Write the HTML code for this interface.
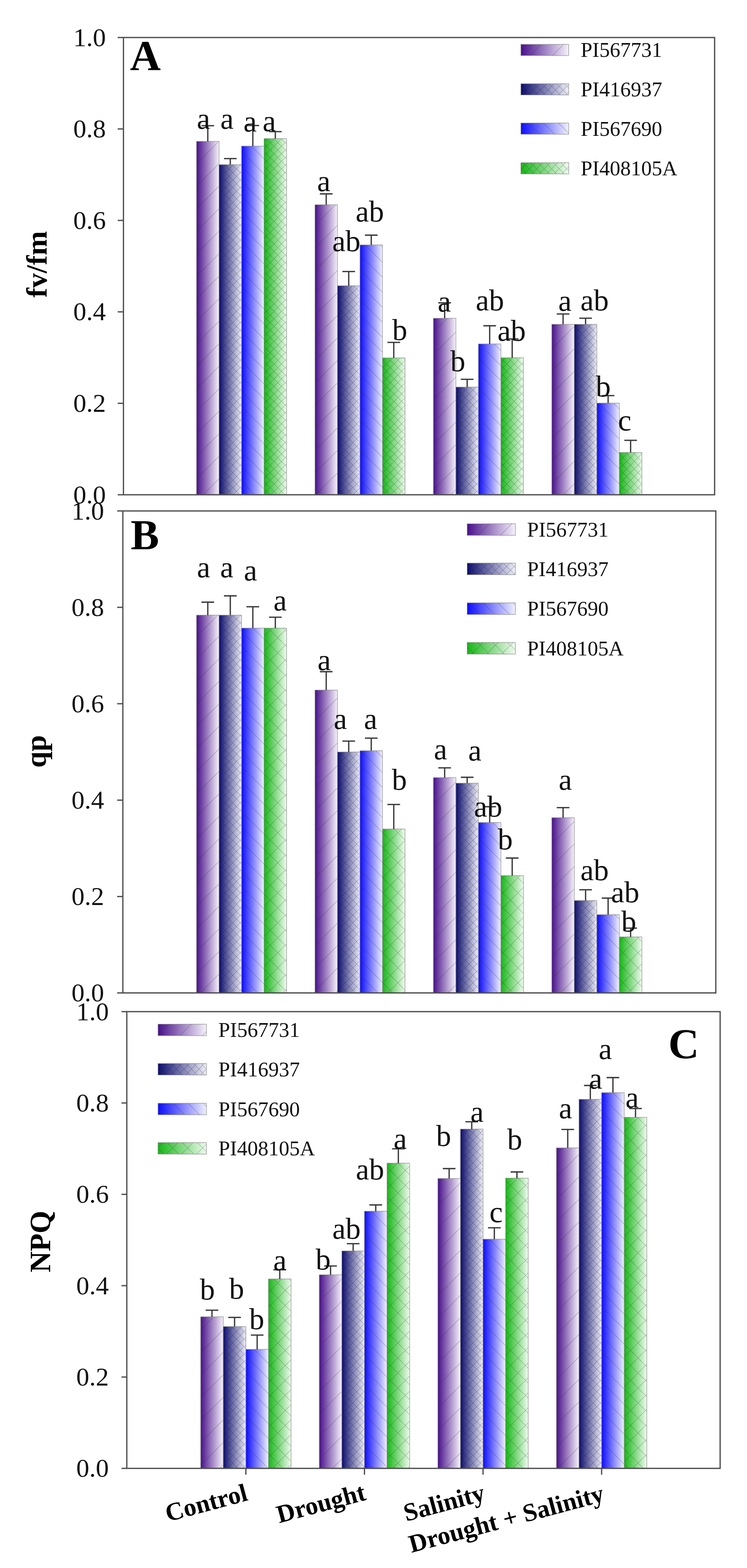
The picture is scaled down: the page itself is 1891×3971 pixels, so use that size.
<!DOCTYPE html>
<html><head><meta charset="utf-8"><title>Chlorophyll fluorescence chart</title>
<style>html,body{margin:0;padding:0;background:#fff;}svg{display:block;}</style>
</head><body>
<svg width="1891" height="3971" viewBox="0 0 1891 3971">
<defs>
<linearGradient id="g0" x1="0" y1="0" x2="1" y2="0"><stop offset="0" stop-color="#48108a"/><stop offset="1" stop-color="#f6f2fb"/></linearGradient>
<linearGradient id="g1" x1="0" y1="0" x2="1" y2="0"><stop offset="0" stop-color="#0c0c6e"/><stop offset="1" stop-color="#f0f0f8"/></linearGradient>
<linearGradient id="g2" x1="0" y1="0" x2="1" y2="0"><stop offset="0" stop-color="#0c0cff"/><stop offset="1" stop-color="#f0f0ff"/></linearGradient>
<linearGradient id="g3" x1="0" y1="0" x2="1" y2="0"><stop offset="0" stop-color="#16b616"/><stop offset="1" stop-color="#f0faf0"/></linearGradient>
<pattern id="h0" patternUnits="userSpaceOnUse" width="57" height="57"><path d="M-5,62 L62,-5 M-5,5 L5,-5 M52,62 L62,52" stroke="rgba(40,40,60,0.32)" stroke-width="1.3" fill="none"/></pattern>
<pattern id="h1" patternUnits="userSpaceOnUse" width="19" height="19"><path d="M0,0 L19,19 M19,0 L0,19" stroke="rgba(30,30,50,0.35)" stroke-width="1.1" fill="none"/></pattern>
<pattern id="h2" patternUnits="userSpaceOnUse" width="38" height="38"><path d="M-5,-5 L43,43 M33,-5 L43,5 M-5,33 L5,43" stroke="rgba(40,40,60,0.32)" stroke-width="1.3" fill="none"/></pattern>
<pattern id="h3" patternUnits="userSpaceOnUse" width="19" height="19"><path d="M0,0 L19,19 M19,0 L0,19" stroke="rgba(30,60,30,0.35)" stroke-width="1.1" fill="none"/></pattern>
<pattern id="h3b" patternUnits="userSpaceOnUse" width="38" height="38"><path d="M0,0 L38,38 M38,0 L0,38" stroke="rgba(30,60,30,0.35)" stroke-width="1.2" fill="none"/></pattern>
</defs>
<rect x="0" y="0" width="1891" height="3971" fill="#ffffff"/>
<g id="panelA">
<rect x="497.5" y="358" width="57" height="895" fill="url(#g0)"/><rect x="497.5" y="358" width="57" height="895" fill="url(#h0)" stroke="#8a8a8a" stroke-width="1.2"/>
<rect x="554.5" y="417" width="57" height="836" fill="url(#g1)"/><rect x="554.5" y="417" width="57" height="836" fill="url(#h1)" stroke="#8a8a8a" stroke-width="1.2"/>
<rect x="611.5" y="370" width="57" height="883" fill="url(#g2)"/><rect x="611.5" y="370" width="57" height="883" fill="url(#h2)" stroke="#8a8a8a" stroke-width="1.2"/>
<rect x="668.5" y="351" width="57" height="902" fill="url(#g3)"/><rect x="668.5" y="351" width="57" height="902" fill="url(#h3)" stroke="#8a8a8a" stroke-width="1.2"/>
<rect x="797.3" y="518.5" width="57" height="734.5" fill="url(#g0)"/><rect x="797.3" y="518.5" width="57" height="734.5" fill="url(#h0)" stroke="#8a8a8a" stroke-width="1.2"/>
<rect x="854.3" y="723.7" width="57" height="529.3" fill="url(#g1)"/><rect x="854.3" y="723.7" width="57" height="529.3" fill="url(#h1)" stroke="#8a8a8a" stroke-width="1.2"/>
<rect x="911.3" y="620.2" width="57" height="632.8" fill="url(#g2)"/><rect x="911.3" y="620.2" width="57" height="632.8" fill="url(#h2)" stroke="#8a8a8a" stroke-width="1.2"/>
<rect x="968.3" y="906.4" width="57" height="346.6" fill="url(#g3)"/><rect x="968.3" y="906.4" width="57" height="346.6" fill="url(#h3)" stroke="#8a8a8a" stroke-width="1.2"/>
<rect x="1097.1" y="806" width="57" height="447" fill="url(#g0)"/><rect x="1097.1" y="806" width="57" height="447" fill="url(#h0)" stroke="#8a8a8a" stroke-width="1.2"/>
<rect x="1154.1" y="980.2" width="57" height="272.8" fill="url(#g1)"/><rect x="1154.1" y="980.2" width="57" height="272.8" fill="url(#h1)" stroke="#8a8a8a" stroke-width="1.2"/>
<rect x="1211.1" y="871" width="57" height="382" fill="url(#g2)"/><rect x="1211.1" y="871" width="57" height="382" fill="url(#h2)" stroke="#8a8a8a" stroke-width="1.2"/>
<rect x="1268.1" y="906" width="57" height="347" fill="url(#g3)"/><rect x="1268.1" y="906" width="57" height="347" fill="url(#h3)" stroke="#8a8a8a" stroke-width="1.2"/>
<rect x="1396.9" y="821.3" width="57" height="431.7" fill="url(#g0)"/><rect x="1396.9" y="821.3" width="57" height="431.7" fill="url(#h0)" stroke="#8a8a8a" stroke-width="1.2"/>
<rect x="1453.9" y="821.3" width="57" height="431.7" fill="url(#g1)"/><rect x="1453.9" y="821.3" width="57" height="431.7" fill="url(#h1)" stroke="#8a8a8a" stroke-width="1.2"/>
<rect x="1510.9" y="1020.9" width="57" height="232.1" fill="url(#g2)"/><rect x="1510.9" y="1020.9" width="57" height="232.1" fill="url(#h2)" stroke="#8a8a8a" stroke-width="1.2"/>
<rect x="1567.9" y="1145.9" width="57" height="107.1" fill="url(#g3)"/><rect x="1567.9" y="1145.9" width="57" height="107.1" fill="url(#h3)" stroke="#8a8a8a" stroke-width="1.2"/>
<path d="M526,358 V318.3 M510,318.3 H542" stroke="#3a3a3a" stroke-width="3.3" fill="none"/>
<path d="M583,417 V401.7 M567,401.7 H599" stroke="#3a3a3a" stroke-width="3.3" fill="none"/>
<path d="M640,370 V317.8 M624,317.8 H656" stroke="#3a3a3a" stroke-width="3.3" fill="none"/>
<path d="M697,351 V333.4 M681,333.4 H713" stroke="#3a3a3a" stroke-width="3.3" fill="none"/>
<path d="M825.8,518.5 V491 M809.8,491 H841.8" stroke="#3a3a3a" stroke-width="3.3" fill="none"/>
<path d="M882.8,723.7 V687.7 M866.8,687.7 H898.8" stroke="#3a3a3a" stroke-width="3.3" fill="none"/>
<path d="M939.8,620.2 V595.5 M923.8,595.5 H955.8" stroke="#3a3a3a" stroke-width="3.3" fill="none"/>
<path d="M996.8,906.4 V867.2 M980.8,867.2 H1012.8" stroke="#3a3a3a" stroke-width="3.3" fill="none"/>
<path d="M1125.6,806 V767 M1109.6,767 H1141.6" stroke="#3a3a3a" stroke-width="3.3" fill="none"/>
<path d="M1182.6,980.2 V960.7 M1166.6,960.7 H1198.6" stroke="#3a3a3a" stroke-width="3.3" fill="none"/>
<path d="M1239.6,871 V825 M1223.6,825 H1255.6" stroke="#3a3a3a" stroke-width="3.3" fill="none"/>
<path d="M1296.6,906 V858.5 M1280.6,858.5 H1312.6" stroke="#3a3a3a" stroke-width="3.3" fill="none"/>
<path d="M1425.4,821.3 V795.2 M1409.4,795.2 H1441.4" stroke="#3a3a3a" stroke-width="3.3" fill="none"/>
<path d="M1482.4,821.3 V805.8 M1466.4,805.8 H1498.4" stroke="#3a3a3a" stroke-width="3.3" fill="none"/>
<path d="M1539.4,1020.9 V1001.8 M1523.4,1001.8 H1555.4" stroke="#3a3a3a" stroke-width="3.3" fill="none"/>
<path d="M1596.4,1145.9 V1115.2 M1580.4,1115.2 H1612.4" stroke="#3a3a3a" stroke-width="3.3" fill="none"/>
<rect x="312.5" y="95" width="1496.5" height="1158" fill="none" stroke="#4d4d4d" stroke-width="3.2"/>
<path d="M298,1253 H312.5" stroke="#4d4d4d" stroke-width="3.2"/><text x="268" y="1274.5" font-family="'Liberation Serif', 'Times New Roman', serif" font-size="66" text-anchor="end" fill="#111">0.0</text>
<path d="M298,1021.4 H312.5" stroke="#4d4d4d" stroke-width="3.2"/><text x="268" y="1042.9" font-family="'Liberation Serif', 'Times New Roman', serif" font-size="66" text-anchor="end" fill="#111">0.2</text>
<path d="M298,789.8 H312.5" stroke="#4d4d4d" stroke-width="3.2"/><text x="268" y="811.3" font-family="'Liberation Serif', 'Times New Roman', serif" font-size="66" text-anchor="end" fill="#111">0.4</text>
<path d="M298,558.2 H312.5" stroke="#4d4d4d" stroke-width="3.2"/><text x="268" y="579.7" font-family="'Liberation Serif', 'Times New Roman', serif" font-size="66" text-anchor="end" fill="#111">0.6</text>
<path d="M298,326.6 H312.5" stroke="#4d4d4d" stroke-width="3.2"/><text x="268" y="348.1" font-family="'Liberation Serif', 'Times New Roman', serif" font-size="66" text-anchor="end" fill="#111">0.8</text>
<path d="M298,95 H312.5" stroke="#4d4d4d" stroke-width="3.2"/><text x="268" y="116.5" font-family="'Liberation Serif', 'Times New Roman', serif" font-size="66" text-anchor="end" fill="#111">1.0</text>
<text x="498.3" y="325.6" font-family="'Liberation Serif', 'Times New Roman', serif" font-size="76" fill="#111">a</text>
<text x="557.8" y="325.6" font-family="'Liberation Serif', 'Times New Roman', serif" font-size="76" fill="#111">a</text>
<text x="616.3" y="333" font-family="'Liberation Serif', 'Times New Roman', serif" font-size="76" fill="#111">a</text>
<text x="664.8" y="332" font-family="'Liberation Serif', 'Times New Roman', serif" font-size="76" fill="#111">a</text>
<text x="802.7" y="483.6" font-family="'Liberation Serif', 'Times New Roman', serif" font-size="76" fill="#111">a</text>
<text x="840.9" y="636" font-family="'Liberation Serif', 'Times New Roman', serif" font-size="76" fill="#111">ab</text>
<text x="900.3" y="560.5" font-family="'Liberation Serif', 'Times New Roman', serif" font-size="76" fill="#111">ab</text>
<text x="993" y="861" font-family="'Liberation Serif', 'Times New Roman', serif" font-size="76" fill="#111">b</text>
<text x="1108" y="788.5" font-family="'Liberation Serif', 'Times New Roman', serif" font-size="76" fill="#111">a</text>
<text x="1140" y="939.5" font-family="'Liberation Serif', 'Times New Roman', serif" font-size="76" fill="#111">b</text>
<text x="1204.3" y="786.3" font-family="'Liberation Serif', 'Times New Roman', serif" font-size="76" fill="#111">ab</text>
<text x="1259.3" y="862.5" font-family="'Liberation Serif', 'Times New Roman', serif" font-size="76" fill="#111">ab</text>
<text x="1413.3" y="786.7" font-family="'Liberation Serif', 'Times New Roman', serif" font-size="76" fill="#111">a</text>
<text x="1469.3" y="786" font-family="'Liberation Serif', 'Times New Roman', serif" font-size="76" fill="#111">ab</text>
<text x="1508" y="1004" font-family="'Liberation Serif', 'Times New Roman', serif" font-size="76" fill="#111">b</text>
<text x="1564.6" y="1089.8" font-family="'Liberation Serif', 'Times New Roman', serif" font-size="76" fill="#111">c</text>
<rect x="1318.6" y="112.3" width="121" height="28.5" fill="url(#g0)"/><rect x="1318.6" y="112.3" width="121" height="28.5" fill="url(#h0)" stroke="#8a8a8a" stroke-width="1.2"/><text x="1470" y="144.3" font-family="'Liberation Serif', 'Times New Roman', serif" font-size="53" fill="#111">PI567731</text>
<rect x="1318.6" y="212" width="121" height="28.5" fill="url(#g1)"/><rect x="1318.6" y="212" width="121" height="28.5" fill="url(#h1)" stroke="#8a8a8a" stroke-width="1.2"/><text x="1470" y="244" font-family="'Liberation Serif', 'Times New Roman', serif" font-size="53" fill="#111">PI416937</text>
<rect x="1318.6" y="311.5" width="121" height="28.5" fill="url(#g2)"/><rect x="1318.6" y="311.5" width="121" height="28.5" fill="url(#h2)" stroke="#8a8a8a" stroke-width="1.2"/><text x="1470" y="343.5" font-family="'Liberation Serif', 'Times New Roman', serif" font-size="53" fill="#111">PI567690</text>
<rect x="1318.6" y="412" width="121" height="28.5" fill="url(#g3)"/><rect x="1318.6" y="412" width="121" height="28.5" fill="url(#h3)" stroke="#8a8a8a" stroke-width="1.2"/><text x="1470" y="444" font-family="'Liberation Serif', 'Times New Roman', serif" font-size="53" fill="#111">PI408105A</text>
<text x="328.9" y="178" font-family="'Liberation Serif', 'Times New Roman', serif" font-size="108" font-weight="bold" fill="#000">A</text>
<text transform="translate(118,669.3) rotate(-90)" x="0" y="0" text-anchor="middle" font-family="'Liberation Serif', 'Times New Roman', serif" font-size="74" font-weight="bold" fill="#000">fv/fm</text>
</g>
<g id="panelB">
<rect x="497.5" y="1557.9" width="57" height="956.7" fill="url(#g0)"/><rect x="497.5" y="1557.9" width="57" height="956.7" fill="url(#h0)" stroke="#8a8a8a" stroke-width="1.2"/>
<rect x="554.5" y="1557.9" width="57" height="956.7" fill="url(#g1)"/><rect x="554.5" y="1557.9" width="57" height="956.7" fill="url(#h1)" stroke="#8a8a8a" stroke-width="1.2"/>
<rect x="611.5" y="1590.7" width="57" height="923.9" fill="url(#g2)"/><rect x="611.5" y="1590.7" width="57" height="923.9" fill="url(#h2)" stroke="#8a8a8a" stroke-width="1.2"/>
<rect x="668.5" y="1590.7" width="57" height="923.9" fill="url(#g3)"/><rect x="668.5" y="1590.7" width="57" height="923.9" fill="url(#h3b)" stroke="#8a8a8a" stroke-width="1.2"/>
<rect x="797.3" y="1747.6" width="57" height="767" fill="url(#g0)"/><rect x="797.3" y="1747.6" width="57" height="767" fill="url(#h0)" stroke="#8a8a8a" stroke-width="1.2"/>
<rect x="854.3" y="1904.4" width="57" height="610.2" fill="url(#g1)"/><rect x="854.3" y="1904.4" width="57" height="610.2" fill="url(#h1)" stroke="#8a8a8a" stroke-width="1.2"/>
<rect x="911.3" y="1901.2" width="57" height="613.4" fill="url(#g2)"/><rect x="911.3" y="1901.2" width="57" height="613.4" fill="url(#h2)" stroke="#8a8a8a" stroke-width="1.2"/>
<rect x="968.3" y="2099.5" width="57" height="415.1" fill="url(#g3)"/><rect x="968.3" y="2099.5" width="57" height="415.1" fill="url(#h3b)" stroke="#8a8a8a" stroke-width="1.2"/>
<rect x="1097.1" y="1969.2" width="57" height="545.4" fill="url(#g0)"/><rect x="1097.1" y="1969.2" width="57" height="545.4" fill="url(#h0)" stroke="#8a8a8a" stroke-width="1.2"/>
<rect x="1154.1" y="1983.4" width="57" height="531.2" fill="url(#g1)"/><rect x="1154.1" y="1983.4" width="57" height="531.2" fill="url(#h1)" stroke="#8a8a8a" stroke-width="1.2"/>
<rect x="1211.1" y="2083" width="57" height="431.6" fill="url(#g2)"/><rect x="1211.1" y="2083" width="57" height="431.6" fill="url(#h2)" stroke="#8a8a8a" stroke-width="1.2"/>
<rect x="1268.1" y="2217.5" width="57" height="297.1" fill="url(#g3)"/><rect x="1268.1" y="2217.5" width="57" height="297.1" fill="url(#h3b)" stroke="#8a8a8a" stroke-width="1.2"/>
<rect x="1396.9" y="2070.8" width="57" height="443.8" fill="url(#g0)"/><rect x="1396.9" y="2070.8" width="57" height="443.8" fill="url(#h0)" stroke="#8a8a8a" stroke-width="1.2"/>
<rect x="1453.9" y="2280.6" width="57" height="234" fill="url(#g1)"/><rect x="1453.9" y="2280.6" width="57" height="234" fill="url(#h1)" stroke="#8a8a8a" stroke-width="1.2"/>
<rect x="1510.9" y="2316.3" width="57" height="198.3" fill="url(#g2)"/><rect x="1510.9" y="2316.3" width="57" height="198.3" fill="url(#h2)" stroke="#8a8a8a" stroke-width="1.2"/>
<rect x="1567.9" y="2372.7" width="57" height="141.9" fill="url(#g3)"/><rect x="1567.9" y="2372.7" width="57" height="141.9" fill="url(#h3b)" stroke="#8a8a8a" stroke-width="1.2"/>
<path d="M526,1557.9 V1525 M510,1525 H542" stroke="#3a3a3a" stroke-width="3.3" fill="none"/>
<path d="M583,1557.9 V1509 M567,1509 H599" stroke="#3a3a3a" stroke-width="3.3" fill="none"/>
<path d="M640,1590.7 V1536.7 M624,1536.7 H656" stroke="#3a3a3a" stroke-width="3.3" fill="none"/>
<path d="M697,1590.7 V1563.2 M681,1563.2 H713" stroke="#3a3a3a" stroke-width="3.3" fill="none"/>
<path d="M825.8,1747.6 V1701 M809.8,1701 H841.8" stroke="#3a3a3a" stroke-width="3.3" fill="none"/>
<path d="M882.8,1904.4 V1876.9 M866.8,1876.9 H898.8" stroke="#3a3a3a" stroke-width="3.3" fill="none"/>
<path d="M939.8,1901.2 V1869.4 M923.8,1869.4 H955.8" stroke="#3a3a3a" stroke-width="3.3" fill="none"/>
<path d="M996.8,2099.5 V2037.4 M980.8,2037.4 H1012.8" stroke="#3a3a3a" stroke-width="3.3" fill="none"/>
<path d="M1125.6,1969.2 V1944.6 M1109.6,1944.6 H1141.6" stroke="#3a3a3a" stroke-width="3.3" fill="none"/>
<path d="M1182.6,1983.4 V1968.5 M1166.6,1968.5 H1198.6" stroke="#3a3a3a" stroke-width="3.3" fill="none"/>
<path d="M1239.6,2083 V2043 M1223.6,2043 H1255.6" stroke="#3a3a3a" stroke-width="3.3" fill="none"/>
<path d="M1296.6,2217.5 V2173 M1280.6,2173 H1312.6" stroke="#3a3a3a" stroke-width="3.3" fill="none"/>
<path d="M1425.4,2070.8 V2045.4 M1409.4,2045.4 H1441.4" stroke="#3a3a3a" stroke-width="3.3" fill="none"/>
<path d="M1482.4,2280.6 V2253.4 M1466.4,2253.4 H1498.4" stroke="#3a3a3a" stroke-width="3.3" fill="none"/>
<path d="M1539.4,2316.3 V2274.5 M1523.4,2274.5 H1555.4" stroke="#3a3a3a" stroke-width="3.3" fill="none"/>
<path d="M1596.4,2372.7 V2350.5 M1580.4,2350.5 H1612.4" stroke="#3a3a3a" stroke-width="3.3" fill="none"/>
<rect x="311" y="1294" width="1501" height="1220.6" fill="none" stroke="#4d4d4d" stroke-width="3.2"/>
<path d="M296.5,2514.6 H311" stroke="#4d4d4d" stroke-width="3.2"/><text x="263.5" y="2536.1" font-family="'Liberation Serif', 'Times New Roman', serif" font-size="66" text-anchor="end" fill="#111">0.0</text>
<path d="M296.5,2270.5 H311" stroke="#4d4d4d" stroke-width="3.2"/><text x="263.5" y="2292" font-family="'Liberation Serif', 'Times New Roman', serif" font-size="66" text-anchor="end" fill="#111">0.2</text>
<path d="M296.5,2026.4 H311" stroke="#4d4d4d" stroke-width="3.2"/><text x="263.5" y="2047.9" font-family="'Liberation Serif', 'Times New Roman', serif" font-size="66" text-anchor="end" fill="#111">0.4</text>
<path d="M296.5,1782.2 H311" stroke="#4d4d4d" stroke-width="3.2"/><text x="263.5" y="1803.7" font-family="'Liberation Serif', 'Times New Roman', serif" font-size="66" text-anchor="end" fill="#111">0.6</text>
<path d="M296.5,1538.1 H311" stroke="#4d4d4d" stroke-width="3.2"/><text x="263.5" y="1559.6" font-family="'Liberation Serif', 'Times New Roman', serif" font-size="66" text-anchor="end" fill="#111">0.8</text>
<path d="M296.5,1294 H311" stroke="#4d4d4d" stroke-width="3.2"/><text x="263.5" y="1315.5" font-family="'Liberation Serif', 'Times New Roman', serif" font-size="66" text-anchor="end" fill="#111">1.0</text>
<text x="498.5" y="1462" font-family="'Liberation Serif', 'Times New Roman', serif" font-size="76" fill="#111">a</text>
<text x="557.3" y="1462" font-family="'Liberation Serif', 'Times New Roman', serif" font-size="76" fill="#111">a</text>
<text x="617.2" y="1469.5" font-family="'Liberation Serif', 'Times New Roman', serif" font-size="76" fill="#111">a</text>
<text x="692.3" y="1546" font-family="'Liberation Serif', 'Times New Roman', serif" font-size="76" fill="#111">a</text>
<text x="803.8" y="1697" font-family="'Liberation Serif', 'Times New Roman', serif" font-size="76" fill="#111">a</text>
<text x="844.7" y="1846" font-family="'Liberation Serif', 'Times New Roman', serif" font-size="76" fill="#111">a</text>
<text x="921.3" y="1846" font-family="'Liberation Serif', 'Times New Roman', serif" font-size="76" fill="#111">a</text>
<text x="992" y="2000" font-family="'Liberation Serif', 'Times New Roman', serif" font-size="76" fill="#111">b</text>
<text x="1098.3" y="1923" font-family="'Liberation Serif', 'Times New Roman', serif" font-size="76" fill="#111">a</text>
<text x="1185.3" y="1926" font-family="'Liberation Serif', 'Times New Roman', serif" font-size="76" fill="#111">a</text>
<text x="1199.8" y="2068" font-family="'Liberation Serif', 'Times New Roman', serif" font-size="76" fill="#111">ab</text>
<text x="1260" y="2151" font-family="'Liberation Serif', 'Times New Roman', serif" font-size="76" fill="#111">b</text>
<text x="1414.3" y="2000" font-family="'Liberation Serif', 'Times New Roman', serif" font-size="76" fill="#111">a</text>
<text x="1469.3" y="2229" font-family="'Liberation Serif', 'Times New Roman', serif" font-size="76" fill="#111">ab</text>
<text x="1546.8" y="2285" font-family="'Liberation Serif', 'Times New Roman', serif" font-size="76" fill="#111">ab</text>
<text x="1572.8" y="2359" font-family="'Liberation Serif', 'Times New Roman', serif" font-size="76" fill="#111">b</text>
<rect x="1182.6" y="1326.4" width="122" height="29.5" fill="url(#g0)"/><rect x="1182.6" y="1326.4" width="122" height="29.5" fill="url(#h0)" stroke="#8a8a8a" stroke-width="1.2"/><text x="1334.3" y="1358.9" font-family="'Liberation Serif', 'Times New Roman', serif" font-size="53" fill="#111">PI567731</text>
<rect x="1182.6" y="1426" width="122" height="29.5" fill="url(#g1)"/><rect x="1182.6" y="1426" width="122" height="29.5" fill="url(#h1)" stroke="#8a8a8a" stroke-width="1.2"/><text x="1334.3" y="1458.5" font-family="'Liberation Serif', 'Times New Roman', serif" font-size="53" fill="#111">PI416937</text>
<rect x="1182.6" y="1526.7" width="122" height="29.5" fill="url(#g2)"/><rect x="1182.6" y="1526.7" width="122" height="29.5" fill="url(#h2)" stroke="#8a8a8a" stroke-width="1.2"/><text x="1334.3" y="1559.2" font-family="'Liberation Serif', 'Times New Roman', serif" font-size="53" fill="#111">PI567690</text>
<rect x="1182.6" y="1627" width="122" height="29.5" fill="url(#g3)"/><rect x="1182.6" y="1627" width="122" height="29.5" fill="url(#h3b)" stroke="#8a8a8a" stroke-width="1.2"/><text x="1334.3" y="1659.5" font-family="'Liberation Serif', 'Times New Roman', serif" font-size="53" fill="#111">PI408105A</text>
<text x="330.7" y="1390.5" font-family="'Liberation Serif', 'Times New Roman', serif" font-size="108" font-weight="bold" fill="#000">B</text>
<text transform="translate(115.5,1903) rotate(-90)" x="0" y="0" text-anchor="middle" font-family="'Liberation Serif', 'Times New Roman', serif" font-size="74" font-weight="bold" fill="#000">qp</text>
</g>
<g id="panelC">
<rect x="508" y="3334.8" width="57.2" height="383.9" fill="url(#g0)"/><rect x="508" y="3334.8" width="57.2" height="383.9" fill="url(#h0)" stroke="#8a8a8a" stroke-width="1.2"/>
<rect x="565.2" y="3359.5" width="57.2" height="359.2" fill="url(#g1)"/><rect x="565.2" y="3359.5" width="57.2" height="359.2" fill="url(#h1)" stroke="#8a8a8a" stroke-width="1.2"/>
<rect x="622.4" y="3417.2" width="57.2" height="301.5" fill="url(#g2)"/><rect x="622.4" y="3417.2" width="57.2" height="301.5" fill="url(#h2)" stroke="#8a8a8a" stroke-width="1.2"/>
<rect x="679.6" y="3239" width="57.2" height="479.7" fill="url(#g3)"/><rect x="679.6" y="3239" width="57.2" height="479.7" fill="url(#h3b)" stroke="#8a8a8a" stroke-width="1.2"/>
<rect x="808.2" y="3228.4" width="57.2" height="490.3" fill="url(#g0)"/><rect x="808.2" y="3228.4" width="57.2" height="490.3" fill="url(#h0)" stroke="#8a8a8a" stroke-width="1.2"/>
<rect x="865.4" y="3168" width="57.2" height="550.7" fill="url(#g1)"/><rect x="865.4" y="3168" width="57.2" height="550.7" fill="url(#h1)" stroke="#8a8a8a" stroke-width="1.2"/>
<rect x="922.6" y="3067.4" width="57.2" height="651.3" fill="url(#g2)"/><rect x="922.6" y="3067.4" width="57.2" height="651.3" fill="url(#h2)" stroke="#8a8a8a" stroke-width="1.2"/>
<rect x="979.8" y="2945.7" width="57.2" height="773" fill="url(#g3)"/><rect x="979.8" y="2945.7" width="57.2" height="773" fill="url(#h3b)" stroke="#8a8a8a" stroke-width="1.2"/>
<rect x="1108.4" y="2984.6" width="57.2" height="734.1" fill="url(#g0)"/><rect x="1108.4" y="2984.6" width="57.2" height="734.1" fill="url(#h0)" stroke="#8a8a8a" stroke-width="1.2"/>
<rect x="1165.6" y="2859.4" width="57.2" height="859.3" fill="url(#g1)"/><rect x="1165.6" y="2859.4" width="57.2" height="859.3" fill="url(#h1)" stroke="#8a8a8a" stroke-width="1.2"/>
<rect x="1222.8" y="3138.2" width="57.2" height="580.5" fill="url(#g2)"/><rect x="1222.8" y="3138.2" width="57.2" height="580.5" fill="url(#h2)" stroke="#8a8a8a" stroke-width="1.2"/>
<rect x="1280" y="2983.6" width="57.2" height="735.1" fill="url(#g3)"/><rect x="1280" y="2983.6" width="57.2" height="735.1" fill="url(#h3b)" stroke="#8a8a8a" stroke-width="1.2"/>
<rect x="1408.6" y="2907" width="57.2" height="811.7" fill="url(#g0)"/><rect x="1408.6" y="2907" width="57.2" height="811.7" fill="url(#h0)" stroke="#8a8a8a" stroke-width="1.2"/>
<rect x="1465.8" y="2784" width="57.2" height="934.7" fill="url(#g1)"/><rect x="1465.8" y="2784" width="57.2" height="934.7" fill="url(#h1)" stroke="#8a8a8a" stroke-width="1.2"/>
<rect x="1523" y="2767.1" width="57.2" height="951.6" fill="url(#g2)"/><rect x="1523" y="2767.1" width="57.2" height="951.6" fill="url(#h2)" stroke="#8a8a8a" stroke-width="1.2"/>
<rect x="1580.2" y="2829.6" width="57.2" height="889.1" fill="url(#g3)"/><rect x="1580.2" y="2829.6" width="57.2" height="889.1" fill="url(#h3b)" stroke="#8a8a8a" stroke-width="1.2"/>
<path d="M536.6,3334.8 V3318.2 M520.6,3318.2 H552.6" stroke="#3a3a3a" stroke-width="3.3" fill="none"/>
<path d="M593.8,3359.5 V3336.4 M577.8,3336.4 H609.8" stroke="#3a3a3a" stroke-width="3.3" fill="none"/>
<path d="M651,3417.2 V3381.2 M635,3381.2 H667" stroke="#3a3a3a" stroke-width="3.3" fill="none"/>
<path d="M708.2,3239 V3215.6 M692.2,3215.6 H724.2" stroke="#3a3a3a" stroke-width="3.3" fill="none"/>
<path d="M836.8,3228.4 V3206.2 M820.8,3206.2 H852.8" stroke="#3a3a3a" stroke-width="3.3" fill="none"/>
<path d="M894,3168 V3149.6 M878,3149.6 H910" stroke="#3a3a3a" stroke-width="3.3" fill="none"/>
<path d="M951.2,3067.4 V3051.5 M935.2,3051.5 H967.2" stroke="#3a3a3a" stroke-width="3.3" fill="none"/>
<path d="M1008.4,2945.7 V2909.3 M992.4,2909.3 H1024.4" stroke="#3a3a3a" stroke-width="3.3" fill="none"/>
<path d="M1137,2984.6 V2959.5 M1121,2959.5 H1153" stroke="#3a3a3a" stroke-width="3.3" fill="none"/>
<path d="M1194.2,2859.4 V2840.8 M1178.2,2840.8 H1210.2" stroke="#3a3a3a" stroke-width="3.3" fill="none"/>
<path d="M1251.4,3138.2 V3109.3 M1235.4,3109.3 H1267.4" stroke="#3a3a3a" stroke-width="3.3" fill="none"/>
<path d="M1308.6,2983.6 V2968 M1292.6,2968 H1324.6" stroke="#3a3a3a" stroke-width="3.3" fill="none"/>
<path d="M1437.2,2907 V2860.4 M1421.2,2860.4 H1453.2" stroke="#3a3a3a" stroke-width="3.3" fill="none"/>
<path d="M1494.4,2784 V2749 M1478.4,2749 H1510.4" stroke="#3a3a3a" stroke-width="3.3" fill="none"/>
<path d="M1551.6,2767.1 V2729 M1535.6,2729 H1567.6" stroke="#3a3a3a" stroke-width="3.3" fill="none"/>
<path d="M1608.8,2829.6 V2807.4 M1592.8,2807.4 H1624.8" stroke="#3a3a3a" stroke-width="3.3" fill="none"/>
<rect x="321" y="2562" width="1502" height="1156.7" fill="none" stroke="#4d4d4d" stroke-width="3.2"/>
<path d="M307.5,3718.7 H321" stroke="#4d4d4d" stroke-width="3.2"/><text x="275.5" y="3740.2" font-family="'Liberation Serif', 'Times New Roman', serif" font-size="66" text-anchor="end" fill="#111">0.0</text>
<path d="M307.5,3487.4 H321" stroke="#4d4d4d" stroke-width="3.2"/><text x="275.5" y="3508.9" font-family="'Liberation Serif', 'Times New Roman', serif" font-size="66" text-anchor="end" fill="#111">0.2</text>
<path d="M307.5,3256 H321" stroke="#4d4d4d" stroke-width="3.2"/><text x="275.5" y="3277.5" font-family="'Liberation Serif', 'Times New Roman', serif" font-size="66" text-anchor="end" fill="#111">0.4</text>
<path d="M307.5,3024.7 H321" stroke="#4d4d4d" stroke-width="3.2"/><text x="275.5" y="3046.2" font-family="'Liberation Serif', 'Times New Roman', serif" font-size="66" text-anchor="end" fill="#111">0.6</text>
<path d="M307.5,2793.3 H321" stroke="#4d4d4d" stroke-width="3.2"/><text x="275.5" y="2814.8" font-family="'Liberation Serif', 'Times New Roman', serif" font-size="66" text-anchor="end" fill="#111">0.8</text>
<path d="M307.5,2562 H321" stroke="#4d4d4d" stroke-width="3.2"/><text x="275.5" y="2583.5" font-family="'Liberation Serif', 'Times New Roman', serif" font-size="66" text-anchor="end" fill="#111">1.0</text>
<path d="M622.4,3718.7 V3734.7" stroke="#4d4d4d" stroke-width="3.2"/>
<path d="M922.6,3718.7 V3734.7" stroke="#4d4d4d" stroke-width="3.2"/>
<path d="M1222.8,3718.7 V3734.7" stroke="#4d4d4d" stroke-width="3.2"/>
<path d="M1523,3718.7 V3734.7" stroke="#4d4d4d" stroke-width="3.2"/>
<text x="505.9" y="3290.5" font-family="'Liberation Serif', 'Times New Roman', serif" font-size="76" fill="#111">b</text>
<text x="580" y="3289" font-family="'Liberation Serif', 'Times New Roman', serif" font-size="76" fill="#111">b</text>
<text x="631" y="3365.5" font-family="'Liberation Serif', 'Times New Roman', serif" font-size="76" fill="#111">b</text>
<text x="691.8" y="3217" font-family="'Liberation Serif', 'Times New Roman', serif" font-size="76" fill="#111">a</text>
<text x="799" y="3215" font-family="'Liberation Serif', 'Times New Roman', serif" font-size="76" fill="#111">b</text>
<text x="841.3" y="3137" font-family="'Liberation Serif', 'Times New Roman', serif" font-size="76" fill="#111">ab</text>
<text x="900.7" y="2986.5" font-family="'Liberation Serif', 'Times New Roman', serif" font-size="76" fill="#111">ab</text>
<text x="996.3" y="2909" font-family="'Liberation Serif', 'Times New Roman', serif" font-size="76" fill="#111">a</text>
<text x="1104" y="2901.5" font-family="'Liberation Serif', 'Times New Roman', serif" font-size="76" fill="#111">b</text>
<text x="1190.8" y="2841" font-family="'Liberation Serif', 'Times New Roman', serif" font-size="76" fill="#111">a</text>
<text x="1239.1" y="3095" font-family="'Liberation Serif', 'Times New Roman', serif" font-size="76" fill="#111">c</text>
<text x="1284" y="2911" font-family="'Liberation Serif', 'Times New Roman', serif" font-size="76" fill="#111">b</text>
<text x="1414.8" y="2832" font-family="'Liberation Serif', 'Times New Roman', serif" font-size="76" fill="#111">a</text>
<text x="1491.1" y="2757" font-family="'Liberation Serif', 'Times New Roman', serif" font-size="76" fill="#111">a</text>
<text x="1515.5" y="2682" font-family="'Liberation Serif', 'Times New Roman', serif" font-size="76" fill="#111">a</text>
<text x="1583.3" y="2805" font-family="'Liberation Serif', 'Times New Roman', serif" font-size="76" fill="#111">a</text>
<rect x="400" y="2593.7" width="122.5" height="29.2" fill="url(#g0)"/><rect x="400" y="2593.7" width="122.5" height="29.2" fill="url(#h0)" stroke="#8a8a8a" stroke-width="1.2"/><text x="552.8" y="2626.2" font-family="'Liberation Serif', 'Times New Roman', serif" font-size="53" fill="#111">PI567731</text>
<rect x="400" y="2693.3" width="122.5" height="29.2" fill="url(#g1)"/><rect x="400" y="2693.3" width="122.5" height="29.2" fill="url(#h1)" stroke="#8a8a8a" stroke-width="1.2"/><text x="552.8" y="2725.8" font-family="'Liberation Serif', 'Times New Roman', serif" font-size="53" fill="#111">PI416937</text>
<rect x="400" y="2794" width="122.5" height="29.2" fill="url(#g2)"/><rect x="400" y="2794" width="122.5" height="29.2" fill="url(#h2)" stroke="#8a8a8a" stroke-width="1.2"/><text x="552.8" y="2826.5" font-family="'Liberation Serif', 'Times New Roman', serif" font-size="53" fill="#111">PI567690</text>
<rect x="400" y="2893.6" width="122.5" height="29.2" fill="url(#g3)"/><rect x="400" y="2893.6" width="122.5" height="29.2" fill="url(#h3b)" stroke="#8a8a8a" stroke-width="1.2"/><text x="552.8" y="2926.1" font-family="'Liberation Serif', 'Times New Roman', serif" font-size="53" fill="#111">PI408105A</text>
<text x="1691.7" y="2680" font-family="'Liberation Serif', 'Times New Roman', serif" font-size="108" font-weight="bold" fill="#000">C</text>
<text transform="translate(126.7,3144.4) rotate(-90)" x="0" y="0" text-anchor="middle" font-family="'Liberation Serif', 'Times New Roman', serif" font-size="74" font-weight="bold" fill="#000">NPQ</text>
</g>
<text transform="translate(630,3799) rotate(-15)" x="0" y="0" text-anchor="end" font-family="'Liberation Serif', 'Times New Roman', serif" font-size="64" font-weight="bold" fill="#000">Control</text>
<text transform="translate(929,3798) rotate(-15)" x="0" y="0" text-anchor="end" font-family="'Liberation Serif', 'Times New Roman', serif" font-size="64" font-weight="bold" fill="#000">Drought</text>
<text transform="translate(1231,3799) rotate(-15)" x="0" y="0" text-anchor="end" font-family="'Liberation Serif', 'Times New Roman', serif" font-size="64" font-weight="bold" fill="#000">Salinity</text>
<text transform="translate(1532.5,3801) rotate(-15)" x="0" y="0" text-anchor="end" font-family="'Liberation Serif', 'Times New Roman', serif" font-size="64" font-weight="bold" fill="#000">Drought + Salinity</text>
</svg>
</body></html>
